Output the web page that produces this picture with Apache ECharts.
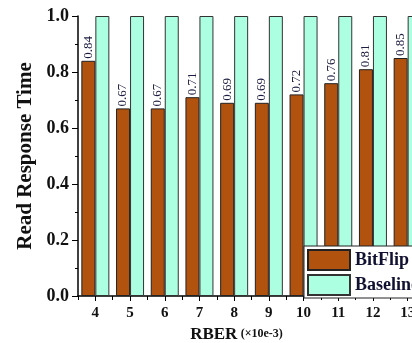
<!DOCTYPE html>
<html><head><meta charset="utf-8">
<script src="https://cdn.jsdelivr.net/npm/echarts@6/dist/echarts.min.js"></script>
<style>html,body{margin:0;padding:0;background:#fff;overflow:hidden}#c{width:440px;height:343px}</style>
</head><body><div id="c"></div>
<script>
const categories = ['4','5','6','7','8','9','10','11','12','13'];
const bitflip = [0.84, 0.67, 0.67, 0.71, 0.69, 0.69, 0.72, 0.76, 0.81, 0.85];
const baseline = [1, 1, 1, 1, 1, 1, 1, 1, 1, 1];
const yTicks = [0, 0.2, 0.4, 0.6, 0.8, 1.0];

const serif = '"Liberation Serif", "DejaVu Serif", serif';
const chart = echarts.init(document.getElementById('c'));
chart.setOption({
  animation: false,
  grid: { left: 78, top: 16, bottom: 47, width: 347, containLabel: false, outerBoundsMode: 'none' },
  legend: {
    orient: 'vertical', left: 304, top: 246,
    icon: 'rect',
    itemWidth: 42, itemHeight: 20, itemGap: 3,
    padding: [3, 10, 2, 3],
    backgroundColor: '#fff', borderColor: '#222', borderWidth: 1,
    textStyle: { fontFamily: serif, fontWeight: 'bold', fontSize: 18, color: '#101030' },
    data: ['BitFlip', 'Baseline']
  },
  xAxis: [{
    type: 'category', data: categories,
    axisLine: { lineStyle: { color: '#000', width: 1.5 } },
    axisTick: { show: true, length: 4, lineStyle: { color: '#000' } },
    axisLabel: { fontFamily: serif, fontWeight: 'bold', fontSize: 15, color: '#111', margin: 10 },
    name: '{a|RBER} {b|(×10e-3)}',
    nameLocation: 'middle', nameGap: 28,
    nameTextStyle: {
      padding: [0, 30, 0, 0],
      rich: {
        a: { fontFamily: serif, fontWeight: 'bold', fontSize: 17, color: '#111' },
        b: { fontFamily: serif, fontWeight: 'bold', fontSize: 12, color: '#111' }
      }
    }
  }, {
    type: 'category', data: categories, position: 'bottom', offset: 0,
    axisLine: { show: false },
    axisTick: { show: true, alignWithLabel: true, length: 5, lineStyle: { color: '#000' } },
    axisLabel: { show: false }
  }],
  yAxis: {
    type: 'value', min: 0, max: 1, interval: 0.2,
    name: 'Read Response Time', nameLocation: 'middle', nameGap: 40, nameRotate: 90,
    nameTextStyle: { fontFamily: serif, fontWeight: 'bold', fontSize: 21, color: '#111' },
    axisLine: { show: true, lineStyle: { color: '#000', width: 1.5 } },
    axisTick: { show: true, length: 6, lineStyle: { color: '#000' } },
    minorTick: { show: true, splitNumber: 2, length: 3, lineStyle: { color: '#000' } },
    splitLine: { show: false },
    axisLabel: {
      fontFamily: serif, fontWeight: 'bold', fontSize: 18, color: '#111', margin: 9,
      formatter: v => (yTicks.some(t => Math.abs(t - v) < 1e-9) ? v.toFixed(1) : '')
    }
  },
  series: [{
    name: 'BitFlip', type: 'bar', data: bitflip, barWidth: 14, barGap: '0%',
    itemStyle: { color: '#b1520f', borderColor: '#222', borderWidth: 1 },
    label: {
      show: true, position: 'top', rotate: 90, align: 'left', verticalAlign: 'middle',
      distance: 2, fontFamily: serif, fontSize: 13, color: '#1c1c40',
      formatter: p => p.value.toFixed(2)
    }
  }, {
    name: 'Baseline', type: 'bar', data: baseline, barWidth: 14,
    itemStyle: { color: '#adffe2', borderColor: '#333', borderWidth: 1 }
  }]
});
</script></body></html>
